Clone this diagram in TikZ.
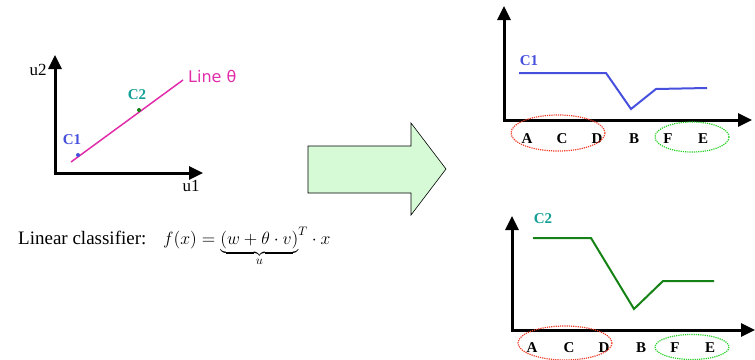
\documentclass[tikz,border=0pt]{standalone}
\usepackage{fontspec}
\setmainfont{Liberation Serif}
\newfontfamily\linefont{DejaVu Sans}
\usetikzlibrary{arrows.meta}
\definecolor{pinkline}{RGB}{225,45,170}
\definecolor{cone}{RGB}{70,80,220}
\definecolor{ctwo}{RGB}{20,160,150}
\definecolor{greenline}{RGB}{20,130,20}
\definecolor{arrowfill}{RGB}{213,250,213}
\definecolor{redgroup}{RGB}{240,60,40}
\definecolor{greengroup}{RGB}{40,210,40}

\tikzset{
  axis/.style={line width=3pt, -{Triangle[length=14pt,width=13pt]}},
  lbl/.style={font=\fontsize{15}{17}\selectfont\bfseries, inner sep=0pt},
  grp/.style={densely dotted, line width=1.2pt},
  axname/.style={font=\fontsize{17}{19}\selectfont, inner sep=0pt},
}

\begin{document}
\begin{tikzpicture}[x=1pt, y=-1pt]
  \useasboundingbox (0,0) rectangle (755,359);

  % Left: projection space
  \coordinate (o) at (55,173);
  \coordinate (u2top) at (55,55);
  \coordinate (u1end) at (203,173);
  \draw[axis] (o) -- (u2top);
  \draw[axis] ([xshift=-1.5pt]o) -- (u1end);
  \node[axname] (u2) at (38,70) {u2};
  \node[axname] (u1) at (191,186) {u1};

  % Line theta with the two classes
  \coordinate (l0) at (71,162);
  \coordinate (l1) at (183,80);
  \draw[pinkline, line width=1.5pt] (l0) -- (l1);
  \node[pinkline, font=\linefont\fontsize{16}{18}\selectfont, anchor=west, inner sep=0pt] (lname) at (188,76) {Line θ};
  \fill[cone] (78,155) circle (2pt);
  \fill[greenline] (139,110) circle (2pt);
  \node[lbl, cone] (c1) at (72,140) {C1};
  \node[lbl, ctwo] (c2) at (137,95) {C2};

  % Formula
  \node[anchor=base west, font=\fontsize{19}{22}\selectfont, inner sep=0pt] (cls) at (18,244) {Linear classifier:};
  \node[anchor=base west, font=\fontsize{14.4}{17}\selectfont, inner sep=0pt] (fx) at (163,244)
    {\scalebox{1.23}{$f(x)={\underbrace{(w+\theta\cdot v)}_{u}}^{T}\cdot x$}};

  % Big arrow
  \draw[fill=arrowfill, line width=0.6pt] (308,146) -- (411,146) -- (411,123) -- (446,169)
    -- (411,215) -- (411,193) -- (308,193) -- cycle;

  % Top chart: C1
  \coordinate (ta) at (504,120);
  \draw[axis] (ta) -- (504,6);
  \draw[axis] ([xshift=-1.5pt]ta) -- (752,120);
  \node[lbl, cone] (tc1) at (529,61) {C1};
  \draw[cone, line width=2pt] (519,73) -- (606,73) -- (631,109) -- (656,89) -- (707,88);
  \foreach \x/\name in {527/A, 562/C, 597/D, 634/B, 668/F, 703/E}
    \node[lbl] (t\name) at (\x,139) {\name};
  \draw[grp, redgroup] (558,133) ellipse (47 and 18);
  \draw[grp, greengroup] (692,137) ellipse (37 and 15);

  % Bottom chart: C2
  \coordinate (ba) at (512,330);
  \draw[axis] (ba) -- (512,216);
  \draw[axis] ([xshift=-1.5pt]ba) -- (755,330);
  \node[lbl, ctwo] (bc2) at (543,219) {C2};
  \draw[greenline, line width=2pt] (533,238) -- (591,238) -- (634,309) -- (663,281) -- (714,281);
  \foreach \x/\name in {532/A, 569/C, 604/D, 641/B, 675/F, 710/E}
    \node[lbl] (b\name) at (\x,348) {\name};
  \draw[grp, redgroup] (565,343) ellipse (47 and 17);
  \draw[grp, greengroup] (692,347) ellipse (37 and 12.5);
\end{tikzpicture}
\end{document}
